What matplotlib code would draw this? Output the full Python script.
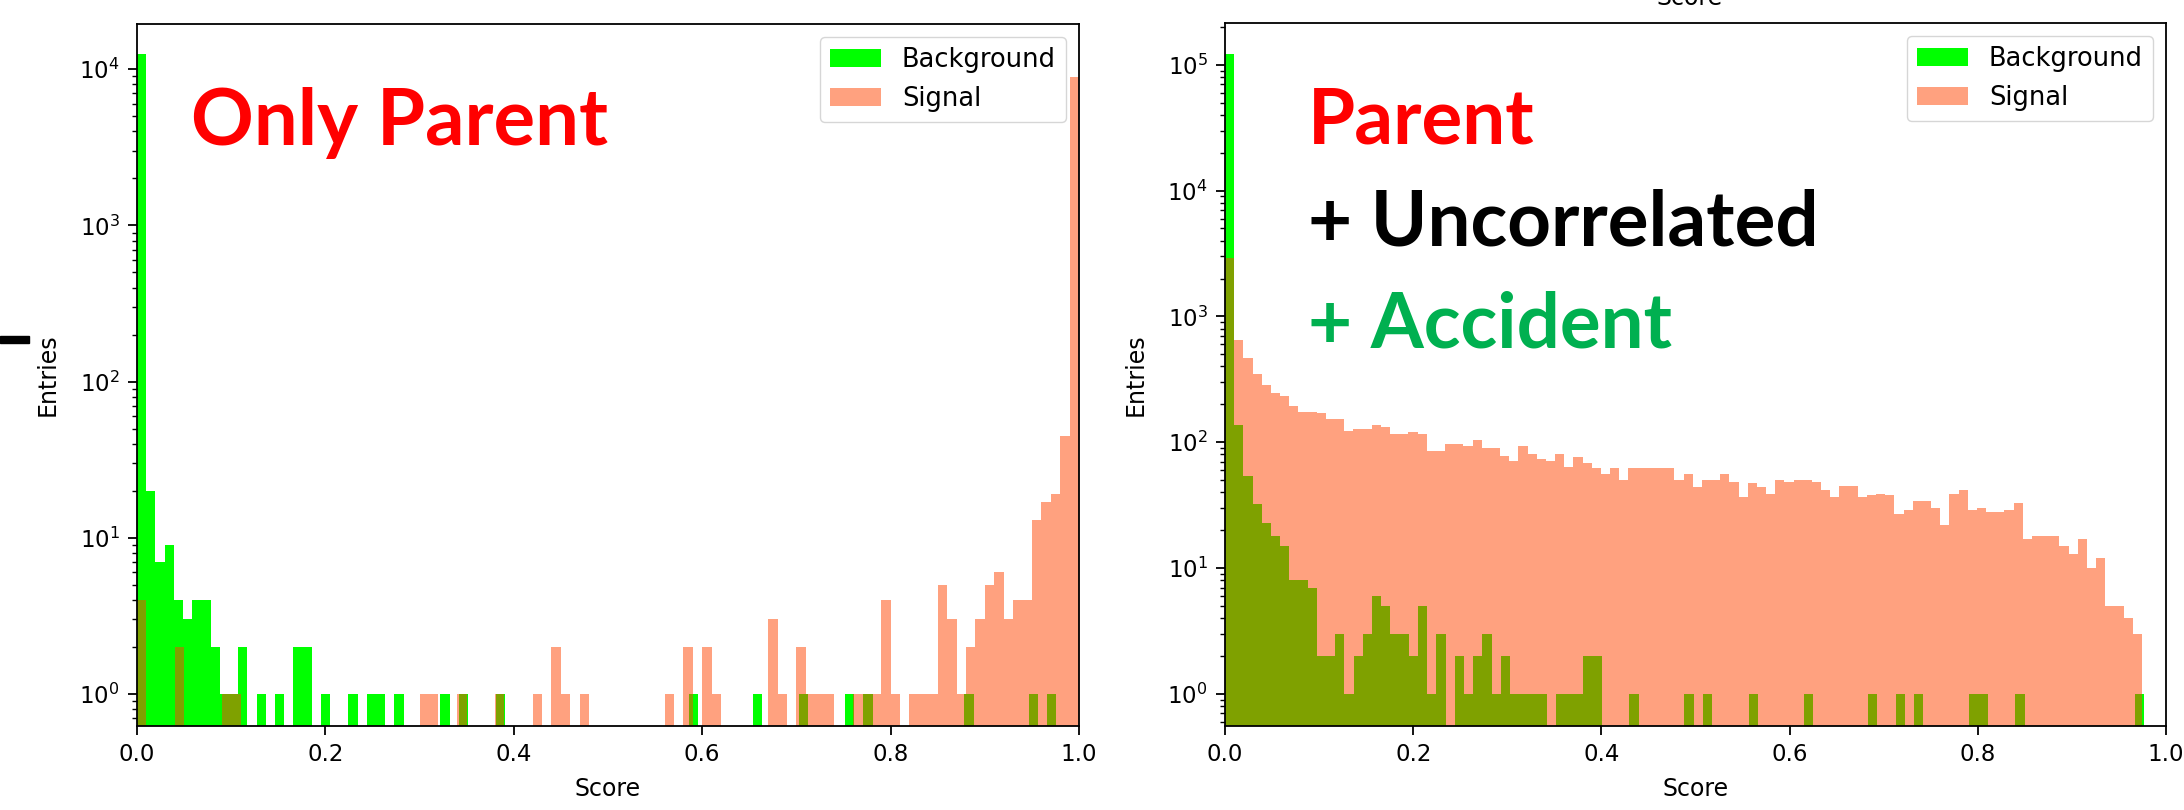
import numpy as np
import matplotlib
matplotlib.use("Agg")
import matplotlib.pyplot as plt
from matplotlib.patches import Rectangle

# Bin counts (100 bins per histogram)
left_bkg = [12600, 20, 7, 9, 4, 3, 4, 4, 2, 1,
            1, 2, 0, 1, 0, 1, 0, 2, 2, 0,
            1, 0, 0, 1, 0, 1, 1, 0, 1, 0,
            0, 0, 0, 1, 0, 1, 0, 0, 0, 1,
            0, 0, 0, 0, 0, 0, 0, 0, 0, 0,
            0, 0, 0, 0, 0, 0, 0, 0, 0, 0,
            1, 0, 0, 0, 0, 0, 0, 1, 0, 0,
            0, 0, 1, 0, 0, 0, 0, 1, 0, 1,
            0, 0, 0, 0, 0, 0, 0, 0, 0, 0,
            1, 0, 0, 0, 0, 0, 0, 1, 0, 1]
left_sig = [4, 0, 0, 0, 2, 0, 0, 0, 0, 1,
            1, 0, 0, 0, 0, 0, 0, 0, 0, 0,
            0, 0, 0, 0, 0, 0, 0, 0, 0, 0,
            1, 1, 0, 0, 1, 0, 0, 0, 1, 0,
            0, 0, 1, 0, 2, 1, 0, 1, 0, 0,
            0, 0, 0, 0, 0, 0, 1, 0, 2, 0,
            2, 1, 0, 0, 0, 0, 0, 3, 1, 0,
            2, 1, 1, 1, 0, 0, 1, 1, 1, 4,
            1, 0, 1, 1, 1, 5, 3, 1, 2, 3,
            5, 6, 3, 4, 4, 13, 17, 19, 45, 8900]
right_bkg = [122000, 137, 54, 32, 23, 18, 15, 8, 8, 7,
             2, 2, 3, 1, 2, 3, 6, 5, 3, 3,
             2, 5, 1, 3, 0, 2, 1, 2, 3, 1,
             2, 1, 1, 1, 1, 0, 1, 1, 1, 2,
             2, 0, 0, 0, 1, 0, 0, 0, 0, 0,
             1, 0, 1, 0, 0, 0, 0, 1, 0, 0,
             0, 0, 0, 1, 0, 0, 0, 0, 0, 0,
             1, 0, 0, 1, 0, 1, 0, 0, 0, 0,
             0, 1, 1, 0, 0, 0, 1, 0, 0, 0,
             0, 0, 0, 0, 0, 0, 0, 0, 0, 1]
right_sig = [2900, 650, 466, 351, 286, 248, 233, 195, 175, 175,
             170, 153, 153, 123, 127, 127, 137, 133, 116, 116,
             120, 116, 85, 85, 97, 97, 93, 104, 90, 90,
             78, 71, 93, 81, 73, 71, 81, 64, 76, 69,
             62, 56, 62, 50, 62, 62, 62, 62, 62, 50,
             56, 44, 50, 50, 56, 48, 37, 47, 44, 39,
             50, 48, 50, 50, 48, 42, 37, 45, 45, 37,
             38, 39, 38, 27, 29, 34, 34, 30, 22, 39,
             42, 29, 30, 28, 28, 29, 33, 17, 18, 18,
             18, 15, 13, 17, 10, 12, 5, 5, 4, 3]

# score range covered by each histogram
left_bkg_max, left_sig_max = 0.976, 1.0
right_bkg_max, right_sig_max = 0.9766, 0.9745

fs_tick = 16.5
fs_label = 17
fs_leg = 18.5

fig = plt.figure(figsize=(21.84, 8.1), dpi=100)
W, H = 2184, 810


def panel(left_px, right_px, top_px, bottom_px, bkg, bkg_max, sig, sig_max, ylim):
    ax = fig.add_axes([left_px / W, 1 - bottom_px / H,
                       (right_px - left_px) / W, (bottom_px - top_px) / H])
    e_b = np.linspace(0, bkg_max, len(bkg) + 1)
    e_s = np.linspace(0, sig_max, len(sig) + 1)
    ax.hist(e_b[:-1], bins=e_b, weights=bkg, color='lime', label='Background', log=True)
    ax.hist(e_s[:-1], bins=e_s, weights=sig, color='orangered', alpha=0.5, label='Signal', log=True)
    ax.set_xlim(0, 1)
    ax.set_ylim(*ylim)
    ax.set_xlabel('Score', fontsize=fs_label, labelpad=8)
    ax.set_ylabel('Entries', fontsize=fs_label, labelpad=14)
    ax.tick_params(which='major', labelsize=fs_tick, length=6.5, width=1.3, pad=6)
    ax.tick_params(which='minor', length=3.5, width=1.0)
    for s in ax.spines.values():
        s.set_linewidth(1.3)
    ax.legend(loc='upper right', fontsize=fs_leg)
    return ax


ax1 = panel(137, 1079, 24, 726, left_bkg, left_bkg_max, left_sig, left_sig_max, (0.624, 1.95e4))
ax2 = panel(1225, 2166, 23, 726, right_bkg, right_bkg_max, right_sig, right_sig_max, (0.555, 2.15e5))

big = dict(family=['Lato', 'DejaVu Sans'], fontweight='bold', va='baseline', ha='left')
fig.text(191 / W, 1 - 145 / H, 'Only Parent', color='#ff0000', fontsize=56, **big)
fig.text(1308 / W, 1 - 143 / H, 'Parent', color='#ff0000', fontsize=55, **big)
fig.text(1308 / W, 1 - 245 / H, '+ Uncorrelated', color='black', fontsize=55, **big)
fig.text(1308 / W, 1 - 348 / H, '+ Accident', color='#00b050', fontsize=55, **big)

# leftovers of the pasted composite: clipped axis label at top, dash at left
fig.text(1690 / W, 1 - 5 / H, 'Score', fontsize=fs_label, ha='center', va='baseline')
fig.patches.append(Rectangle((0, 1 - 343 / H), 29 / W, 7 / H, transform=fig.transFigure,
                             color='black'))

fig.savefig('out.png', dpi=100)
